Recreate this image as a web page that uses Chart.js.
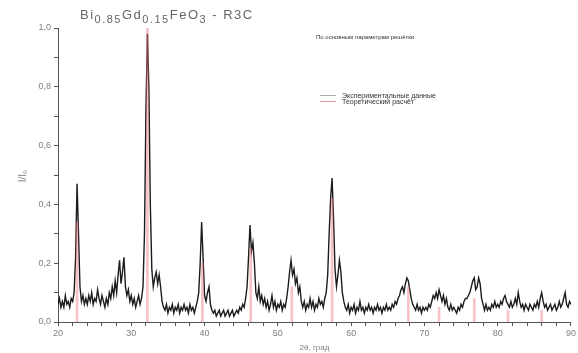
<!DOCTYPE html>
<html>
<head>
<meta charset="utf-8">
<script src="https://cdn.jsdelivr.net/npm/chart.js@4.4.0/dist/chart.umd.min.js"></script>
<style>
  html, body { margin:0; padding:0; background:#fff; }
  #wrap { width:578px; height:353px; position:relative; }
</style>
</head>
<body>
<div id="wrap"><canvas id="xrd"></canvas></div>
<script>
// scan: 2theta from 20 to 90 deg, step 0.2
const SCAN_START = 20;
const SCAN_STEP = 0.2;

// I/I0, one array per 10 deg
const int20 = [
  .06,.08,.05,.07,.05,.09,.06,.07,.05,.08,.07,
  .10,.22,.47,.30,.12,.07,.09,.06,.08,.06,
  .09,.07,.10,.06,.08,.07,.11,.08,.06,.09,
  .07,.05,.08,.06,.10,.08,.12,.09,.14,.10,
  .16,.21,.13,.17,.22,.12,.09,.11,.07,.09
];
const int30 = [
  .06,.08,.05,.07,.09,.06,.08,.12,.30,.72,
  .98,.80,.40,.18,.12,.15,.17,.13,.16,.12,
  .07,.05,.04,.06,.03,.05,.04,.06,.03,.05,
  .04,.06,.03,.05,.04,.06,.04,.05,.03,.06,
  .04,.05,.03,.05,.07,.10,.20,.34,.22,.09
];
const int40 = [
  .07,.10,.12,.06,.04,.03,.04,.02,.03,.04,
  .02,.03,.04,.02,.03,.04,.02,.03,.04,.02,
  .03,.04,.03,.05,.04,.06,.05,.08,.12,.22,
  .33,.24,.27,.20,.10,.08,.12,.07,.09,.06,
  .08,.05,.07,.04,.06,.09,.05,.07,.04,.06
];
const int50 = [
  .05,.07,.04,.06,.05,.08,.12,.17,.21,.16,
  .18,.13,.15,.10,.12,.07,.05,.07,.04,.06,
  .05,.08,.05,.07,.04,.06,.05,.08,.06,.07,
  .05,.08,.10,.16,.30,.42,.49,.35,.18,.12,
  .16,.21,.17,.10,.07,.05,.04,.06,.03,.05
];
const int60 = [
  .04,.06,.03,.05,.04,.07,.04,.05,.03,.05,
  .04,.06,.04,.05,.03,.05,.04,.06,.04,.05,
  .03,.05,.04,.06,.04,.05,.04,.06,.05,.07,
  .06,.08,.09,.11,.12,.10,.13,.15,.14,.11,
  .08,.06,.05,.04,.06,.04,.05,.03,.05,.04
];
const int70 = [
  .05,.04,.06,.05,.07,.09,.08,.10,.08,.11,
  .09,.07,.09,.06,.08,.05,.04,.06,.04,.05,
  .04,.03,.05,.04,.06,.05,.07,.08,.08,.09,
  .10,.12,.14,.15,.11,.12,.15,.13,.08,.06,
  .04,.06,.04,.05,.04,.06,.05,.07,.05,.06
];
const int80 = [
  .05,.07,.06,.08,.09,.07,.06,.05,.07,.05,
  .06,.08,.06,.10,.07,.05,.06,.04,.06,.05,
  .04,.06,.05,.04,.06,.05,.07,.05,.08,.10,
  .07,.05,.06,.04,.05,.06,.04,.05,.06,.04,
  .05,.07,.05,.06,.08,.10,.06,.05,.07,.06
];
const intensity = [].concat(int20, int30, int40, int50, int60, int70, int80);

// R3c reflection positions and calculated heights
const reflPos    = [22.6, 32.2, 39.7, 46.3, 51.9, 57.4, 67.8, 72.0, 76.8, 81.4, 86.0];
const reflHeight = [0.34, 1.00, 0.20, 0.25, 0.12, 0.42, 0.12, 0.05, 0.08, 0.04, 0.04];

const xTicks = [20, 30, 40, 50, 60, 70, 80, 90];
const yTicks = [0, 0.2, 0.4, 0.6, 0.8, 1.0];

const legendLabels = ['Экспериментальные данные', 'Теоретический расчёт'];
const noteText = 'По основным параметрам решётки';

const expPoints = intensity.map((v, i) => ({ x: +(SCAN_START + i*SCAN_STEP).toFixed(1), y: v }));
const theoPoints = reflPos.map((p, i) => ({ x: p, y: reflHeight[i] }));

const FONT = '"Liberation Sans", Arial, sans-serif';
const axisColor = '#555';
const textColor = '#808080';

// title with subscripts, note, legend and y title
const decorPlugin = {
  id: 'decor',
  afterDraw(chart){
    const ctx = chart.ctx;
    ctx.save();
    ctx.fillStyle = '#666';
    ctx.textBaseline = 'alphabetic';
    ctx.textAlign = 'left';
    ctx.letterSpacing = '1.5px';
    const parts = [['Bi',0],['0.85',1],['Gd',0],['0.15',1],['FeO',0],['3',1],[' - R3C',0]];
    let x = 80;
    parts.forEach(([t, sub]) => {
      ctx.font = (sub ? '11px ' : '13px ') + FONT;
      ctx.fillText(t, x, sub ? 23 : 19);
      x += ctx.measureText(t).width;
    });
    ctx.letterSpacing = '0px';

    ctx.fillStyle = '#333';
    ctx.font = '6px ' + FONT;
    ctx.fillText(noteText, 316, 39);

    // legend
    ctx.lineWidth = 1;
    ctx.strokeStyle = '#aaa';
    ctx.beginPath(); ctx.moveTo(320, 95.5); ctx.lineTo(336, 95.5); ctx.stroke();
    ctx.strokeStyle = 'rgba(225,130,140,0.8)';
    ctx.beginPath(); ctx.moveTo(320, 101.5); ctx.lineTo(336, 101.5); ctx.stroke();
    ctx.fillStyle = '#333';
    ctx.font = '7px ' + FONT;
    ctx.fillText(legendLabels[0], 342, 97.5);
    ctx.fillText(legendLabels[1], 342, 104);

    // y axis title
    ctx.fillStyle = textColor;
    ctx.font = '10px ' + FONT;
    ctx.translate(23, 176);
    ctx.rotate(-Math.PI/2);
    ctx.textAlign = 'center';
    ctx.fillText('I/I\u2080', 0, 3);
    ctx.restore();
  }
};

new Chart(document.getElementById('xrd'), {
  type: 'line',
  data: {
    datasets: [
      { type: 'bar', data: theoPoints, backgroundColor: 'rgba(232,120,130,0.45)', barThickness: 2, order: 0 },
      { type: 'line', data: expPoints, borderColor: '#1c1c1c', borderWidth: 1.4, pointRadius: 0, tension: 0, order: 1 }
    ]
  },
  options: {
    responsive: true,
    maintainAspectRatio: false,
    animation: false,
    events: [],
    layout: { padding: { top: 28, right: 2, left: 0, bottom: 0 } },
    plugins: { legend: { display: false }, tooltip: { enabled: false } },
    scales: {
      x: {
        type: 'linear', min: 20, max: 90, offset: false,
        afterFit(s){ s.height = 31; },
        afterBuildTicks(s){ s.ticks = []; for (let v = 20; v <= 90; v += 2) s.ticks.push({ value: v }); },
        ticks: {
          color: textColor, font: { size: 9, family: FONT }, maxRotation: 0, autoSkip: false, padding: 2,
          callback: v => xTicks.includes(v) ? String(v) : ''
        },
        grid: { drawOnChartArea: false, drawTicks: true, tickLength: 4, color: axisColor, offset: false },
        border: { display: true, color: axisColor, width: 1 },
        title: { display: true, text: '2θ, град', color: textColor, font: { size: 8, family: FONT }, padding: { top: 0, bottom: 0 } }
      },
      y: {
        min: 0, max: 1,
        afterFit(s){ s.width = 58; },
        afterBuildTicks(s){ s.ticks = []; for (let k = 0; k <= 10; k++) s.ticks.push({ value: k/10 }); },
        ticks: {
          color: textColor, font: { size: 9, family: FONT }, padding: 3,
          callback: v => yTicks.some(t => Math.abs(t - v) < 1e-6) ? v.toFixed(1).replace('.', ',') : ''
        },
        grid: { drawOnChartArea: false, drawTicks: true, tickLength: 4, color: axisColor },
        border: { display: true, color: axisColor, width: 1 }
      }
    }
  },
  plugins: [decorPlugin]
});
</script>
</body>
</html>
